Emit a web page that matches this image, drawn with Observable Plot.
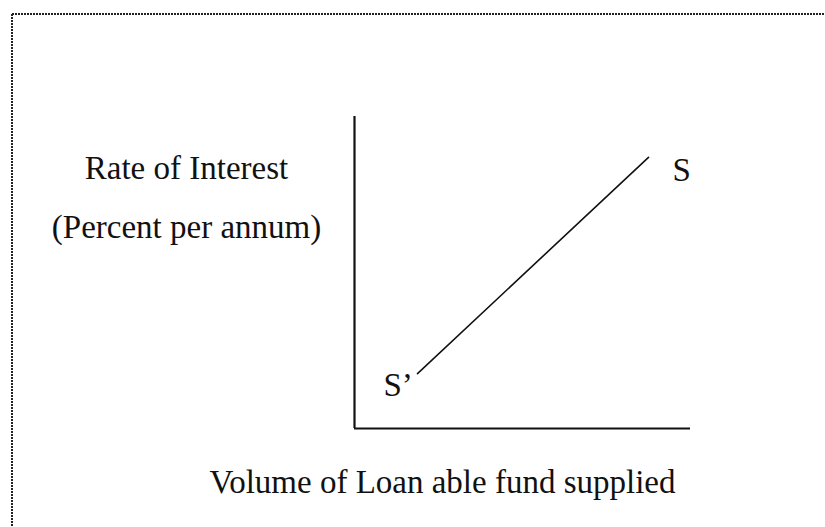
<!DOCTYPE html>
<html>
<head>
<meta charset="utf-8">
<script src="https://cdn.jsdelivr.net/npm/d3@7"></script>
<script src="https://cdn.jsdelivr.net/npm/@observablehq/plot@0.6"></script>
<style>
  html, body { margin: 0; padding: 0; background: #fff; }
  #wrap { position: relative; width: 825px; height: 527px; overflow: hidden; }
  #border { position: absolute; left: 0; top: 0; pointer-events: none; }
</style>
</head>
<body>
<div id="wrap"></div>
<script>
// ---- data ----
const yAxisLabels = [
  { text: "Rate of Interest", x: -5.0, y: 8.01 },
  { text: "(Percent per annum)", x: -5.0, y: 6.09 }
];
const xAxisLabel = [{ text: "Volume of Loan able fund supplied", x: 2.62, y: -2.08 }];
// supply curve endpoints (volume, rate) in arbitrary units
const supplyVolume = [1.875, 8.75];
const supplyRate = [1.76, 8.69];
const supplyLabels = ["S’", "S"];
const supply = supplyVolume.map((v, i) => ({ x: v, y: supplyRate[i], label: supplyLabels[i] }));

const font = "'Liberation Serif', 'Times New Roman', serif";

const chart = Plot.plot({
  width: 825,
  height: 527,
  marginLeft: 354,
  marginRight: 135,
  marginTop: 116,
  marginBottom: 99,
  x: { domain: [0, 10], axis: null },
  y: { domain: [0, 10], axis: null },
  style: { background: "transparent", fontFamily: font, overflow: "visible" },
  marks: [
    Plot.ruleX([0], { y1: 0, y2: 10, stroke: "#111", strokeWidth: 2.2 }),
    Plot.ruleY([0], { x1: 0, x2: 10, stroke: "#111", strokeWidth: 2.2 }),
    Plot.line(supply, { x: "x", y: "y", stroke: "#111", strokeWidth: 1.6 }),
    Plot.text(supply.filter(d => d.label === "S"), {
      x: "x", y: "y", text: "label", textAnchor: "start", lineAnchor: "bottom",
      dx: 24, dy: 24, fontSize: 33, fill: "#111"
    }),
    Plot.text(supply.filter(d => d.label !== "S"), {
      x: "x", y: "y", text: "label", textAnchor: "start", lineAnchor: "bottom",
      dx: -34, dy: 22, fontSize: 33, fill: "#111"
    }),
    Plot.text(yAxisLabels, {
      x: "x", y: "y", text: "text", textAnchor: "middle", lineAnchor: "bottom",
      fontSize: 33, fill: "#111"
    }),
    Plot.text(xAxisLabel, {
      x: "x", y: "y", text: "text", textAnchor: "middle", lineAnchor: "bottom",
      fontSize: 33, fill: "#111"
    })
  ]
});

const wrap = document.getElementById("wrap");
wrap.appendChild(chart);

// dotted frame (page decoration)
const ns = "http://www.w3.org/2000/svg";
const b = document.createElementNS(ns, "svg");
b.setAttribute("id", "border");
b.setAttribute("width", 825);
b.setAttribute("height", 527);
const mk = (x1, y1, x2, y2) => {
  const l = document.createElementNS(ns, "line");
  l.setAttribute("x1", x1); l.setAttribute("y1", y1);
  l.setAttribute("x2", x2); l.setAttribute("y2", y2);
  l.setAttribute("stroke", "#222");
  l.setAttribute("stroke-width", 2);
  l.setAttribute("stroke-dasharray", "2 1");
  b.appendChild(l);
};
mk(12, 14, 825, 14);
mk(12, 14, 12, 527);
wrap.appendChild(b);
</script>
</body>
</html>
